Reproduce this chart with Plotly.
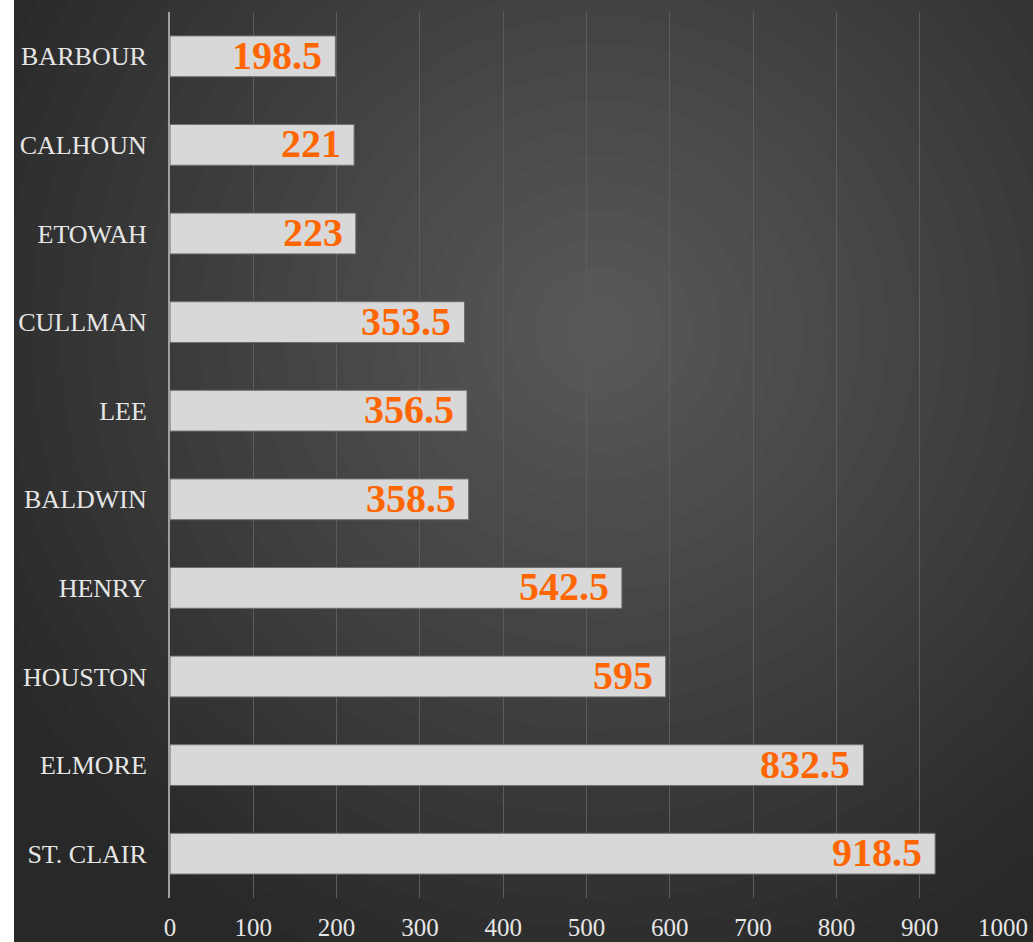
import plotly.graph_objects as go

# --- data ---
counties = ["BARBOUR", "CALHOUN", "ETOWAH", "CULLMAN", "LEE",
            "BALDWIN", "HENRY", "HOUSTON", "ELMORE", "ST. CLAIR"]
values = [198.5, 221, 223, 353.5, 356.5, 358.5, 542.5, 595, 832.5, 918.5]
value_labels = ["198.5", "221", "223", "353.5", "356.5",
                "358.5", "542.5", "595", "832.5", "918.5"]
x_ticks = [0, 100, 200, 300, 400, 500, 600, 700, 800, 900, 1000]

SERIF = "Liberation Serif, Times New Roman, serif"

fig = go.Figure()

fig.add_trace(go.Bar(
    x=values,
    y=counties,
    orientation="h",
    marker=dict(color="#d8d8d8", line=dict(color="#707070", width=1)),
    hoverinfo="x+y",
))

# value labels at the inside end of each bar
annotations = []
for c, v, t in zip(counties, values, value_labels):
    annotations.append(dict(
        x=v, y=c, xref="x", yref="y",
        text=t, showarrow=False,
        xanchor="right", yanchor="middle",
        xshift=-11, yshift=1,
        font=dict(family=SERIF, size=40, color="#ff6600", weight="bold"),
    ))

# background: dark panel with a soft radial highlight, white strip on the left
shapes = [dict(
    type="rect", xref="paper", yref="paper",
    xsizemode="pixel", xanchor=0, x0=-175, x1=-156,
    y0=-1, y1=1.1, fillcolor="white", line=dict(width=0), layer="below",
)]
n_rings = 24
for i in range(n_rings):
    r = 680 - i * 28
    shapes.append(dict(
        type="circle", xref="paper", yref="paper",
        xsizemode="pixel", ysizemode="pixel",
        xanchor=0.516, yanchor=0.64,
        x0=-r, x1=r, y0=-r, y1=r,
        fillcolor="white", opacity=0.012, line=dict(width=0),
        layer="below",
    ))

fig.update_layout(
    width=1033, height=942,
    margin=dict(l=170, r=30, t=12, b=44),
    paper_bgcolor="#282828",
    plot_bgcolor="rgba(0,0,0,0)",
    bargap=0.54,
    showlegend=False,
    annotations=annotations,
    shapes=shapes,
    font=dict(family=SERIF, color="#e6e6e6"),
)

fig.update_xaxes(
    range=[0, 1000],
    tickvals=x_ticks,
    showgrid=True, gridcolor="#5c5c5c", gridwidth=1,
    zeroline=False, showline=False,
    tickfont=dict(family=SERIF, size=25, color="#e6e6e6"),
    ticks="outside", ticklen=0, ticklabelstandoff=7,
    automargin=False,
)
fig.update_yaxes(
    autorange="reversed",
    showgrid=False, zeroline=False,
    showline=True, linecolor="#a0a0a0", linewidth=2,
    tickfont=dict(family=SERIF, size=26, color="#e6e6e6"),
    ticks="outside", ticklen=0, ticklabelstandoff=16,
    automargin=False,
)

fig.write_html("out.html", config={"displayModeBar": False},
               post_script="document.body.style.margin='0';")
